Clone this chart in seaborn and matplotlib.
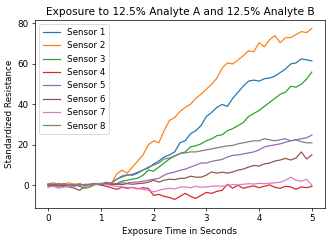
import numpy as np
import pandas as pd
import seaborn as sns
import matplotlib
matplotlib.use("Agg")
import matplotlib.pyplot as plt

# time axis, one reading every 0.1 s
time_s = np.round(np.arange(0, 5.01, 0.1), 1)

sensor1 = [0.5, -0.5, 0.3, -0.8, 0.2, -0.4, 0.6, 0.1, -0.3, 0.8, 0.4, 0.9, 1.2, 3.0, 4.5, 5.2, 5.0,
           6.0, 7.5, 8.5, 10.5, 12.0, 14.0, 15.0, 16.5, 21.0, 22.0, 25.5, 27.0, 29.5, 34.0, 36.0, 38.5,
           40.0, 39.0, 43.0, 46.0, 49.0, 51.5, 52.0, 51.5, 52.7, 53.0, 54.0, 55.7, 57.5, 60.0, 60.5,
           62.5, 62.0, 61.5]
sensor2 = [0.8, 0.2, 1.0, 0.5, 1.2, 0.3, 0.8, -0.2, 0.5, 1.0, 0.6, 1.2, 0.8, 5.5, 7.5, 6.0, 9.0,
           12.0, 15.0, 20.0, 22.0, 21.0, 27.0, 32.0, 33.5, 36.5, 38.5, 40.0, 43.0, 45.0, 47.5, 50.0,
           53.0, 58.0, 60.5, 60.0, 62.0, 64.0, 66.5, 66.0, 70.5, 68.5, 72.0, 74.0, 70.5, 73.0, 73.0,
           74.5, 76.0, 75.5, 77.5]
sensor3 = [-0.5, 0.3, -0.4, 0.6, -0.2, 0.4, -0.6, -1.5, -0.8, 0.5, 0.2, 0.6, 0.3, 0.8, 2.0, 2.5,
           3.0, 3.5, 5.0, 7.5, 7.0, 9.0, 11.0, 13.0, 14.5, 15.7, 16.5, 19.0, 19.5, 20.5, 22.0, 23.0,
           24.5, 25.0, 27.0, 28.0, 29.5, 31.0, 34.0, 35.5, 37.0, 39.0, 41.0, 43.0, 45.0, 46.0, 49.0,
           48.5, 50.0, 52.5, 56.0]
sensor4 = [0.2, -0.3, 0.4, 0.0, -0.5, 0.3, 0.5, -0.2, 0.4, 0.8, 0.2, -0.5, -1.2, -2.0, -1.0, -1.5,
           -1.0, -1.8, -1.2, -1.5, -5.0, -4.5, -5.5, -6.0, -7.0, -5.5, -4.0, -5.5, -6.5, -5.0, -3.5,
           -4.0, -3.0, -2.5, 0.5, -1.5, 0.0, -1.5, -0.8, -0.3, -1.2, -0.5, 0.2, -1.0, -1.5, -0.5,
           -0.8, -2.0, -0.8, -1.2, -0.5]
sensor5 = [-0.5, 0.2, -0.8, 0.4, -0.3, 0.5, -0.2, 0.3, 0.6, 0.2, 1.0, 0.4, 0.8, 0.5, 1.2, 1.0, 1.5,
           1.6, 2.0, 2.5, 3.0, 3.4, 5.0, 6.0, 6.5, 7.4, 8.0, 9.0, 10.0, 11.0, 11.0, 11.8, 12.3, 12.8,
           14.0, 14.8, 15.0, 15.5, 16.0, 16.5, 17.5, 19.0, 19.5, 20.0, 20.5, 21.3, 22.0, 22.5, 23.0,
           23.5, 24.8]
sensor6 = [0.3, -0.2, 0.5, -0.5, -0.8, -1.5, -2.5, -0.5, 0.2, 0.6, 0.3, 0.8, 0.4, 0.6, 0.3, 0.8,
           0.5, 0.8, 1.0, 1.5, 2.5, 1.6, 2.5, 3.0, 2.8, 3.4, 3.5, 4.5, 4.0, 4.0, 5.0, 6.6, 6.0, 6.5,
           6.0, 6.6, 7.5, 8.0, 9.0, 9.8, 9.5, 10.6, 11.0, 12.0, 12.5, 13.3, 12.5, 13.5, 16.5, 13.0,
           15.0]
sensor7 = [-1.0, -0.5, -1.5, -0.8, -0.3, -0.8, 0.2, -0.5, 0.0, 0.5, 1.0, 0.3, 0.0, -0.5, -0.8,
           -1.0, -1.2, -1.5, -2.0, -2.5, -3.3, -2.5, -1.8, -1.5, -1.8, -1.0, -0.8, -1.2, -0.5, -1.0,
           -0.8, -0.5, -0.3, -0.5, 0.0, 0.3, 0.2, 0.5, 0.8, 0.6, 1.0, 0.8, 1.0, 1.2, 1.5, 2.5, 4.0,
           2.5, 2.0, 3.0, 0.0]
sensor8 = [0.5, 1.2, 0.4, 0.8, 0.2, 0.6, 0.0, 0.5, 0.3, 0.8, 0.6, 1.5, 1.0, 3.0, 4.0, 5.0, 5.5, 6.5,
           7.5, 9.0, 10.0, 11.0, 13.0, 13.5, 14.5, 15.7, 16.0, 16.5, 16.5, 17.0, 17.5, 18.0, 18.5,
           19.0, 19.5, 19.7, 20.5, 21.0, 21.5, 22.0, 22.0, 23.0, 22.5, 22.0, 22.5, 23.0, 22.0, 22.5,
           21.5, 21.0, 21.0]

sensors = [sensor1, sensor2, sensor3, sensor4, sensor5, sensor6, sensor7, sensor8]
names = ["Sensor %d" % (i + 1) for i in range(len(sensors))]

frames = []
for name, vals in zip(names, sensors):
    frames.append(pd.DataFrame({"time": time_s, "resistance": vals, "sensor": name}))
df = pd.concat(frames, ignore_index=True)

# small output, so render at low dpi with the default font sizes
DPI = 63
fig, ax = plt.subplots(figsize=(332 / DPI, 241 / DPI), dpi=DPI)
fig.subplots_adjust(left=0.105, right=0.979, top=0.917, bottom=0.137)

sns.lineplot(data=df, x="time", y="resistance", hue="sensor", palette="tab10", ax=ax, linewidth=1.4)

ax.set_title("Exposure to 12.5% Analyte A and 12.5% Analyte B")
ax.set_xlabel("Exposure Time in Seconds")
ax.set_ylabel("Standardized Resistance")
ax.set_yticks([0, 20, 40, 60, 80])
sns.move_legend(ax, "upper left", title=None)

plt.savefig("out.png", dpi=DPI)
